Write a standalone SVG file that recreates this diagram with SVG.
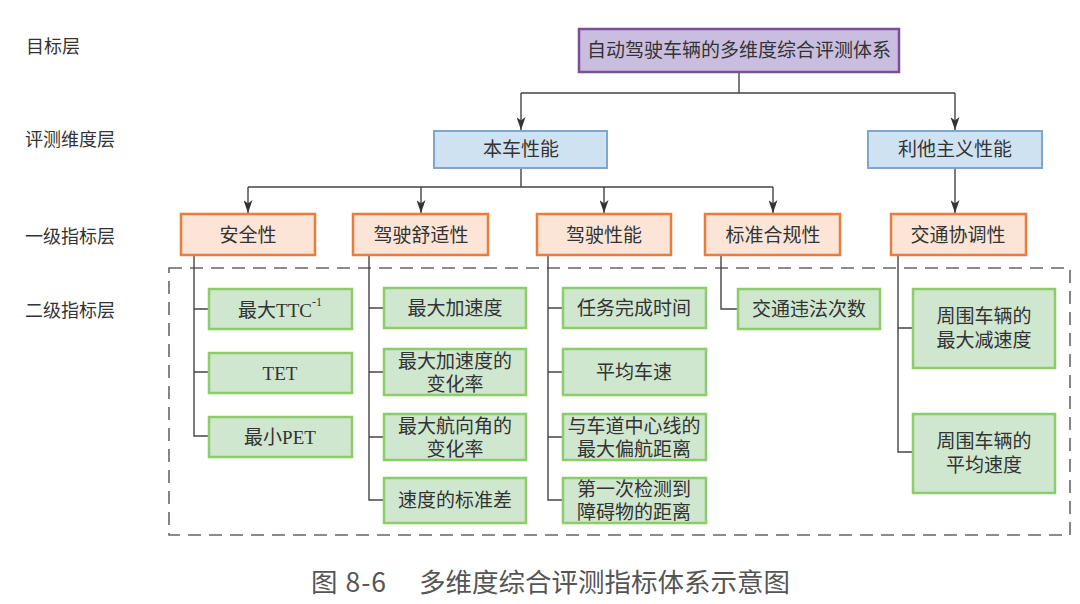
<svg xmlns="http://www.w3.org/2000/svg" width="1080" height="604" viewBox="0 0 1080 604">
<style>
text{font-family:"Liberation Serif","Noto Sans CJK SC",serif;fill:#333;text-anchor:middle;dominant-baseline:central}
.lbl{font-family:"Noto Sans CJK SC",sans-serif;font-size:18px;text-anchor:start}
.cap{font-family:"Noto Sans CJK SC",sans-serif;font-size:26.5px;fill:#555;text-anchor:start}
.top{fill:#c9bedf;stroke:#7b4e9c;stroke-width:2.5}
.dim{fill:#cfe2f2;stroke:#7ea7cc;stroke-width:2}
.l1{fill:#fce4d6;stroke:#e87d3e;stroke-width:2.5}
.l2{fill:#cfe6cf;stroke:#8dcc6a;stroke-width:2.5}
.t{font-size:19px}
.c{fill:none;stroke:#444;stroke-width:1.4}
.dash{fill:none;stroke:#666;stroke-width:1.6;stroke-dasharray:13 8}
</style>
<defs>
<marker id="arr" markerUnits="userSpaceOnUse" markerWidth="13" markerHeight="9" refX="13" refY="4.5" orient="auto" viewBox="0 0 13 9">
<path d="M0,0 L13,4.5 L0,9 L3.5,4.5 z" fill="#333"/>
</marker>
</defs>

<g id="layer-labels">
<text class="lbl" x="26" y="45">目标层</text>
<text class="lbl" x="25" y="138">评测维度层</text>
<text class="lbl" x="25" y="235">一级指标层</text>
<text class="lbl" x="25" y="309">二级指标层</text>
</g>

<rect class="dash" x="169" y="268" width="901" height="267"/>

<g id="connectors">
<path class="c" d="M739,72 V93 M521,93 H955"/>
<path class="c" d="M521,93 V130" marker-end="url(#arr)"/>
<path class="c" d="M955,93 V130" marker-end="url(#arr)"/>
<path class="c" d="M521,168 V187 M248,187 H773"/>
<path class="c" d="M248,187 V213" marker-end="url(#arr)"/>
<path class="c" d="M421,187 V213" marker-end="url(#arr)"/>
<path class="c" d="M604,187 V213" marker-end="url(#arr)"/>
<path class="c" d="M773,187 V213" marker-end="url(#arr)"/>
<path class="c" d="M955,168 V213" marker-end="url(#arr)"/>
<path class="c" d="M194,255 V436 H209 M194,309 H209 M194,372 H209"/>
<path class="c" d="M369,255 V500 H384 M369,308 H384 M369,372 H384 M369,437 H384"/>
<path class="c" d="M548,255 V500 H563 M548,308 H563 M548,372 H563 M548,437 H563"/>
<path class="c" d="M721,255 V309 H738"/>
<path class="c" d="M898,255 V452 H913 M898,328 H913"/>
</g>

<g id="n-root"><rect class="top" x="579" y="29" width="320" height="43"/><text class="t" x="739" y="50">自动驾驶车辆的多维度综合评测体系</text></g>

<g id="n-self"><rect class="dim" x="434" y="131" width="173" height="37"/><text class="t" x="521" y="149">本车性能</text></g>
<g id="n-altru"><rect class="dim" x="868" y="131" width="174" height="37"/><text class="t" x="955" y="149">利他主义性能</text></g>

<g id="n-safe"><rect class="l1" x="181" y="214" width="134" height="41"/><text class="t" x="248" y="235">安全性</text></g>
<g id="n-comfort"><rect class="l1" x="353" y="214" width="135" height="41"/><text class="t" x="421" y="235">驾驶舒适性</text></g>
<g id="n-drive"><rect class="l1" x="537" y="214" width="134" height="41"/><text class="t" x="604" y="235">驾驶性能</text></g>
<g id="n-comply"><rect class="l1" x="705" y="214" width="135" height="41"/><text class="t" x="773" y="235">标准合规性</text></g>
<g id="n-coord"><rect class="l1" x="891" y="214" width="135" height="41"/><text class="t" x="958" y="235">交通协调性</text></g>

<g id="n-ttc"><rect class="l2" x="209" y="289" width="143" height="40"/><text class="t" x="280" y="310">最大TTC<tspan font-size="12" dy="-8">-1</tspan></text></g>
<g id="n-tet"><rect class="l2" x="209" y="353" width="143" height="40"/><text class="t" x="280" y="373">TET</text></g>
<g id="n-pet"><rect class="l2" x="209" y="417" width="143" height="40"/><text class="t" x="280" y="437">最小PET</text></g>

<g id="n-maxacc"><rect class="l2" x="384" y="288" width="142" height="40"/><text class="t" x="455" y="308">最大加速度</text></g>
<g id="n-jerk"><rect class="l2" x="384" y="349" width="142" height="46"/><text class="t" x="455" y="361">最大加速度的</text><text class="t" x="455" y="384">变化率</text></g>
<g id="n-yaw"><rect class="l2" x="384" y="414" width="142" height="46"/><text class="t" x="455" y="426">最大航向角的</text><text class="t" x="455" y="449">变化率</text></g>
<g id="n-spdstd"><rect class="l2" x="384" y="478" width="142" height="45"/><text class="t" x="455" y="500">速度的标准差</text></g>

<g id="n-time"><rect class="l2" x="563" y="288" width="143" height="40"/><text class="t" x="634" y="308">任务完成时间</text></g>
<g id="n-avgspd"><rect class="l2" x="563" y="349" width="143" height="46"/><text class="t" x="634" y="372">平均车速</text></g>
<g id="n-offset"><rect class="l2" x="563" y="414" width="143" height="46"/><text class="t" x="634" y="426" font-size="18.5">与车道中心线的</text><text class="t" x="634" y="449">最大偏航距离</text></g>
<g id="n-obst"><rect class="l2" x="563" y="478" width="143" height="45"/><text class="t" x="634" y="489">第一次检测到</text><text class="t" x="634" y="512">障碍物的距离</text></g>

<g id="n-violation"><rect class="l2" x="738" y="289" width="142" height="40"/><text class="t" x="809" y="309">交通违法次数</text></g>

<g id="n-decel"><rect class="l2" x="913" y="289" width="142" height="79"/><text class="t" x="984" y="316">周围车辆的</text><text class="t" x="984" y="340">最大减速度</text></g>
<g id="n-surrspd"><rect class="l2" x="913" y="414" width="142" height="79"/><text class="t" x="984" y="441">周围车辆的</text><text class="t" x="984" y="465">平均速度</text></g>

<text class="cap" x="311" y="580" letter-spacing="1">图 8-6</text>
<text class="cap" x="419" y="580">多维度综合评测指标体系示意图</text>
</svg>
